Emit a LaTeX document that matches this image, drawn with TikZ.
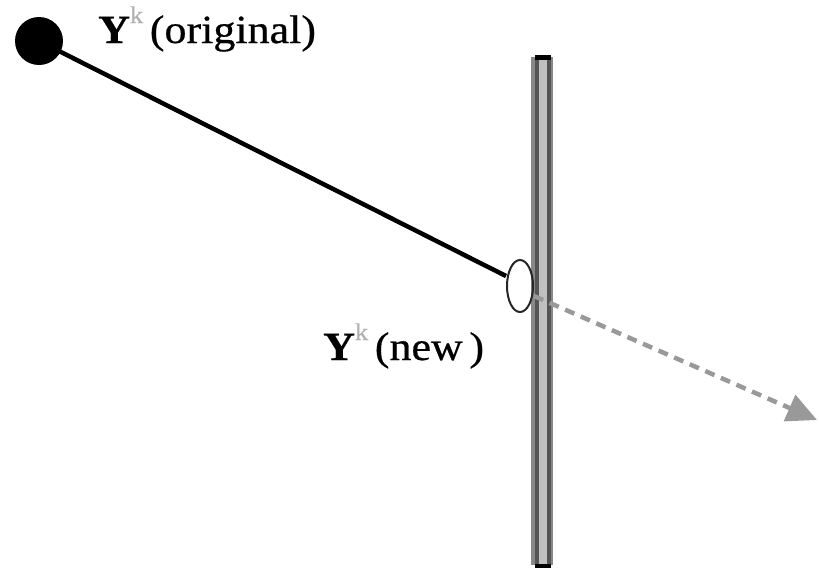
\documentclass[tikz,border=0pt]{standalone}
\usepackage{fontspec}
\setmainfont[FakeStretch=1.1, FakeBold=0.6]{Liberation Serif}
\usetikzlibrary{arrows.meta,shapes.geometric}
\definecolor{barmid}{HTML}{888888}
\definecolor{bardark}{HTML}{555555}
\definecolor{barlight}{HTML}{C0C0C0}
\definecolor{supgray}{HTML}{B0B0B0}
\definecolor{arrowgray}{HTML}{999999}
\begin{document}
\begin{tikzpicture}[x=1pt,y=-1pt,
  lbl/.style={font=\fontsize{40}{44}\selectfont, inner sep=0pt, anchor=base west}]
\useasboundingbox (0,0) rectangle (819,568);
% bar
\fill[barmid] (531,57) rectangle (553,565);
\fill[bardark] (535,57) rectangle (551,565);
\fill[barlight] (539,57) rectangle (547,565);
\fill[black] (535,55) rectangle (551,60);
\fill[black] (535,564) rectangle (551,568);
% nodes
\node[circle, fill=black, minimum size=48pt, inner sep=0pt] (orig) at (39,41) {};
\node[ellipse, draw=black!85, line width=2pt, minimum width=26pt, minimum height=52pt, inner sep=0pt] (new) at (520,286) {};
\coordinate (tip) at (817,420);
\draw[line width=4.5pt] (orig.center) -- (new.west |- 0,276) coordinate (lend);
\draw[line width=4.5pt, arrowgray, dash pattern=on 10pt off 7pt, -{Triangle[length=30pt,width=28pt]}] (new.east |- 0,296) -- (tip);
% labels
\node[lbl] (tlorig) at (98,43) {\textbf{Y}\raisebox{0.5em}{\fontsize{24}{24}\selectfont\textcolor{supgray}{k}}\,(original)};
\node[lbl] (tlnew) at (323,360) {\textbf{Y}\raisebox{0.5em}{\fontsize{24}{24}\selectfont\textcolor{supgray}{k}}\,(new\,)};
\end{tikzpicture}
\end{document}
